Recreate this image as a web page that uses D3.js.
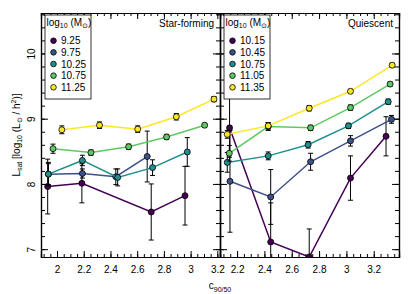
<!DOCTYPE html>
<html>
<head>
<meta charset="utf-8">
<script src="https://d3js.org/d3.v7.min.js"></script>
<style>
  body { margin: 0; background: #fff; }
  text { font-family: "Liberation Sans", Arial, sans-serif; fill: #000; }
</style>
</head>
<body>
<script>
// legend labels (log10 stellar mass bins)
var sfMass = ["9.25", "9.75", "10.25", "10.75", "11.25"];
var qMass = ["10.15", "10.45", "10.75", "11.05", "11.35"];
var colors = ["#440154", "#3b528b", "#21908d", "#5dc963", "#fde725"];

// star-forming: concentration, L_sat, error
var sfC = [
  [1.93, 2.186, 2.705, 2.958],
  [1.935, 2.19, 2.44, 2.675],
  [1.935, 2.19, 2.454, 2.715, 2.975],
  [1.97, 2.254, 2.536, 2.82, 3.105],
  [2.036, 2.318, 2.604, 2.893, 3.175]
];
var sfL = [
  [7.96, 8.01, 7.57, 7.82],
  [8.15, 8.16, 8.11, 8.42],
  [8.15, 8.36, 8.10, 8.25, 8.49],
  [8.54, 8.48, 8.57, 8.72, 8.90],
  [8.83, 8.90, 8.84, 9.03, 9.30]
];
var sfErr = [
  [0.42, 0.30, 0.43, 0.45],
  [0.18, 0.07, 0.12, 0.39],
  [0.16, 0.08, 0.13, 0.12, 0.22],
  [0.07, 0.04, 0.04, 0.04, 0.03],
  [0.06, 0.05, 0.05, 0.05, 0.04]
];

// quiescent
var qC = [
  [2.145, 2.446, 2.728, 3.03, 3.29],
  [2.148, 2.446, 2.738, 3.03, 3.33],
  [2.128, 2.428, 2.72, 3.015, 3.306],
  [2.143, 2.428, 2.738, 3.03, 3.32],
  [2.128, 2.428, 2.728, 3.03, 3.335]
];
var qL = [
  [8.86, 7.11, 6.88, 8.09, 8.73],
  [8.04, 7.80, 8.34, 8.66, 8.99],
  [8.33, 8.43, 8.60, 8.89, 9.26],
  [8.47, 8.88, 8.86, 9.17, 9.53],
  [8.76, 8.89, 9.16, 9.42, 9.82]
];
var qErr = [
  [0.45, 0.60, 0.43, 0.34, 0.30],
  [0.78, 0.42, 0.13, 0.08, 0.06],
  [0.15, 0.06, 0.05, 0.04, 0.04],
  [0.12, 0.06, 0.04, 0.04, 0.03],
  [0.06, 0.05, 0.04, 0.03, 0.03]
];

var width = 411, height = 294;
var top_ = 13, bottom = 257, left = 41, mid = 220, right = 399;

var svg = d3.select("body").append("svg")
  .attr("width", width)
  .attr("height", height);

var y = d3.scaleLinear().domain([6.88, 10.62]).range([bottom, top_]);

var panels = [
  {name: "Star-forming", x0: left, x1: mid, dom: [1.88, 3.22], c: sfC, L: sfL, e: sfErr, mass: sfMass, id: "sf"},
  {name: "Quiescent", x0: mid, x1: right, dom: [2.075, 3.385], c: qC, L: qL, e: qErr, mass: qMass, id: "q"}
];

var defs = svg.append("defs");

panels.forEach(function(p, pi) {
  var x = d3.scaleLinear().domain(p.dom).range([p.x0, p.x1]);
  var majX = d3.range(2, 3.21, 0.2).map(function(v) { return +v.toFixed(2); })
    .filter(function(v) { return v >= p.dom[0] && v <= p.dom[1]; });
  var minX = d3.range(1.8, 3.45, 0.05).map(function(v) { return +v.toFixed(2); })
    .filter(function(v) { return v >= p.dom[0] && v <= p.dom[1]; });
  var majY = [7, 8, 9, 10];
  var minY = d3.range(6.8, 10.7, 0.2).map(function(v) { return +v.toFixed(1); })
    .filter(function(v) { return v >= 6.88 && v <= 10.62; });

  // bottom
  svg.append("g").attr("transform", "translate(0," + bottom + ")")
    .call(d3.axisBottom(x).tickValues(minX).tickSize(-3).tickFormat(""));
  var bx = svg.append("g").attr("transform", "translate(0," + bottom + ")")
    .call(d3.axisBottom(x).tickValues(majX).tickSize(-6).tickFormat(d3.format("")));
  bx.selectAll("text").style("font-size", "10px").attr("y", 9).attr("dy", "0.71em");
  // top
  svg.append("g").attr("transform", "translate(0," + top_ + ")")
    .call(d3.axisTop(x).tickValues(minX).tickSize(-3).tickFormat(""));
  svg.append("g").attr("transform", "translate(0," + top_ + ")")
    .call(d3.axisTop(x).tickValues(majX).tickSize(-6).tickFormat(""));
  // left
  svg.append("g").attr("transform", "translate(" + p.x0 + ",0)")
    .call(d3.axisLeft(y).tickValues(minY).tickSize(-4).tickFormat(""));
  var ly = svg.append("g").attr("transform", "translate(" + p.x0 + ",0)")
    .call(d3.axisLeft(y).tickValues(majY).tickSize(-7).tickFormat(pi === 0 ? d3.format("") : ""));
  ly.selectAll("text").style("font-size", "10px")
    .attr("x", 0).attr("dy", "0.35em")
    .attr("text-anchor", "middle")
    .attr("transform", "translate(-10,0) rotate(-90)");
  // right
  svg.append("g").attr("transform", "translate(" + p.x1 + ",0)")
    .call(d3.axisRight(y).tickValues(minY).tickSize(-4).tickFormat(""));
  svg.append("g").attr("transform", "translate(" + p.x1 + ",0)")
    .call(d3.axisRight(y).tickValues(majY).tickSize(-7).tickFormat(""));

  svg.selectAll(".domain").attr("stroke-width", 1.2);

  defs.append("clipPath").attr("id", "clip-" + p.id)
    .append("rect").attr("x", p.x0).attr("y", top_)
    .attr("width", p.x1 - p.x0).attr("height", bottom - top_);

  var g = svg.append("g").attr("clip-path", "url(#clip-" + p.id + ")");

  p.c.forEach(function(cs, si) {
    var pts = cs.map(function(c, j) { return {c: c, L: p.L[si][j], e: p.e[si][j]}; });
    var sg = g.append("g");
    sg.append("path")
      .datum(pts)
      .attr("fill", "none")
      .attr("stroke", colors[si])
      .attr("stroke-width", 1.5)
      .attr("d", d3.line().x(function(d) { return x(d.c); }).y(function(d) { return y(d.L); }));
    var eb = sg.selectAll(".eb").data(pts).enter().append("g");
    eb.append("line")
      .attr("x1", function(d) { return x(d.c); }).attr("x2", function(d) { return x(d.c); })
      .attr("y1", function(d) { return y(d.L - d.e); }).attr("y2", function(d) { return y(d.L + d.e); })
      .attr("stroke", "#000").attr("stroke-width", 1);
    [-1, 1].forEach(function(s) {
      eb.append("line")
        .attr("x1", function(d) { return x(d.c) - 2.5; }).attr("x2", function(d) { return x(d.c) + 2.5; })
        .attr("y1", function(d) { return y(d.L + s * d.e); }).attr("y2", function(d) { return y(d.L + s * d.e); })
        .attr("stroke", "#000").attr("stroke-width", 1);
    });
    sg.selectAll("circle").data(pts).enter().append("circle")
      .attr("cx", function(d) { return x(d.c); })
      .attr("cy", function(d) { return y(d.L); })
      .attr("r", 3)
      .attr("fill", colors[si])
      .attr("stroke", "#000")
      .attr("stroke-width", 0.8);
  });

  // panel label
  svg.append("text")
    .attr("x", p.x1 - 6).attr("y", 27)
    .attr("text-anchor", "end")
    .style("font-size", "10px")
    .text(p.name);

  // legend
  var lx = p.x0 + 4;
  var lg = svg.append("g");
  lg.append("rect")
    .attr("x", lx).attr("y", 15).attr("width", 46).attr("height", 84)
    .attr("fill", "#fff").attr("stroke", "#000").attr("stroke-width", 0.8);
  var tt = lg.append("text").attr("x", lx + 1.5).attr("y", 26).style("font-size", "10px");
  tt.append("tspan").text("log");
  tt.append("tspan").attr("dy", 2).style("font-size", "7px").text("10");
  tt.append("tspan").attr("dy", -2).text(" (M");
  tt.append("tspan").attr("dy", 2).style("font-size", "7px").text("\u2299");
  tt.append("tspan").attr("dy", -2).text(")");
  p.mass.forEach(function(m, i) {
    var cy = 40.7 + i * 11.65;
    lg.append("circle").attr("cx", lx + 8.5).attr("cy", cy).attr("r", 2.8)
      .attr("fill", colors[i]).attr("stroke", "#000").attr("stroke-width", 0.8);
    lg.append("text").attr("x", lx + 16).attr("y", cy + 3.6)
      .style("font-size", "10px").text(m);
  });
});

// axis titles
var xt = svg.append("text")
  .attr("x", (left + right) / 2).attr("y", 289)
  .attr("text-anchor", "middle")
  .style("font-size", "10px");
xt.append("tspan").text("c");
xt.append("tspan").attr("dy", 2.5).style("font-size", "7px").text("90/50");

var yt = svg.append("text")
  .attr("transform", "translate(20," + ((top_ + bottom) / 2) + ") rotate(-90)")
  .attr("text-anchor", "middle")
  .style("font-size", "10px");
yt.append("tspan").text("L");
yt.append("tspan").attr("dy", 2).style("font-size", "7px").text("sat");
yt.append("tspan").attr("dy", -2).text(" [log");
yt.append("tspan").attr("dy", 2).style("font-size", "7px").text("10");
yt.append("tspan").attr("dy", -2).text(" (L");
yt.append("tspan").attr("dy", 2).style("font-size", "7px").text("\u2299");
yt.append("tspan").attr("dy", -2).text(" / h");
yt.append("tspan").attr("dy", -4).style("font-size", "7px").text("2");
yt.append("tspan").attr("dy", 4).text(")]");
</script>
</body>
</html>
